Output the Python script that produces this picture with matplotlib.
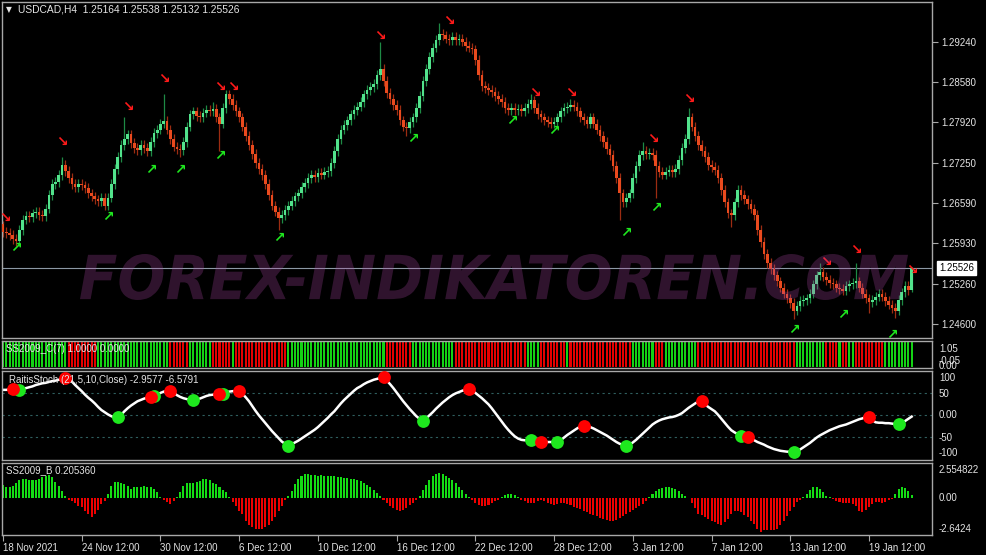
import numpy as np
import matplotlib
matplotlib.use('Agg')
import matplotlib.pyplot as plt
from matplotlib.patches import Rectangle, PathPatch
from matplotlib.textpath import TextPath
from matplotlib.font_manager import FontProperties
from matplotlib.transforms import Affine2D

plt.rcParams['font.family'] = ['Liberation Sans', 'DejaVu Sans']

# ---- price data (USDCAD H4), one close per bar ----
first_open = 1.2625
closes = [
    1.2612, 1.2610, 1.2606, 1.2600, 1.2596, 1.2615, 1.2632, 1.2638, 1.2636, 1.2642,
    1.2644, 1.2640, 1.2637, 1.2650, 1.2672, 1.2690, 1.2694, 1.2705, 1.2722, 1.2712,
    1.2700, 1.2690, 1.2686, 1.2690, 1.2688, 1.2684, 1.2675, 1.2670, 1.2665, 1.2662,
    1.2667, 1.2655, 1.2668, 1.2690, 1.2715, 1.2735, 1.2755, 1.2765, 1.2772, 1.2758,
    1.2750, 1.2747, 1.2755, 1.2750, 1.2745, 1.2760, 1.2775, 1.2780, 1.2790, 1.2794,
    1.2780, 1.2765, 1.2752, 1.2748, 1.2746, 1.2760, 1.2785, 1.2805, 1.2810, 1.2802,
    1.2800, 1.2808, 1.2812, 1.2810, 1.2814, 1.2800, 1.2790, 1.2815, 1.2838, 1.2830,
    1.2820, 1.2810, 1.2800, 1.2785, 1.2770, 1.2755, 1.2740, 1.2725, 1.2715, 1.2705,
    1.2690, 1.2672, 1.2655, 1.2645, 1.2635, 1.2640, 1.2648, 1.2655, 1.2662, 1.2670,
    1.2675, 1.2685, 1.2692, 1.2700, 1.2705, 1.2702, 1.2708, 1.2706, 1.2710, 1.2712,
    1.2725, 1.2745, 1.2765, 1.2780, 1.2788, 1.2795, 1.2805, 1.2812, 1.2818, 1.2825,
    1.2838, 1.2845, 1.2850, 1.2855, 1.2870, 1.2880, 1.2860, 1.2840, 1.2830, 1.2820,
    1.2812, 1.2795, 1.2785, 1.2782, 1.2792, 1.2800, 1.2815, 1.2835, 1.2860, 1.2880,
    1.2900, 1.2915, 1.2928, 1.2938, 1.2935, 1.2930, 1.2927, 1.2932, 1.2928, 1.2930,
    1.2925, 1.2918, 1.2915, 1.2912, 1.2895, 1.2870, 1.2852, 1.2848, 1.2845, 1.2842,
    1.2835, 1.2830, 1.2825, 1.2815, 1.2812, 1.2815, 1.2812, 1.2814, 1.2810, 1.2816,
    1.2822, 1.2828, 1.2815, 1.2805, 1.2800, 1.2795, 1.2792, 1.2790, 1.2792, 1.2800,
    1.2810, 1.2815, 1.2818, 1.2820, 1.2818, 1.2810, 1.2800, 1.2795, 1.2790, 1.2800,
    1.2790, 1.2780, 1.2770, 1.2760, 1.2748, 1.2738, 1.2720, 1.2700, 1.2675, 1.2660,
    1.2668, 1.2675, 1.2700, 1.2720, 1.2738, 1.2745, 1.2740, 1.2742, 1.2738, 1.2720,
    1.2710, 1.2706, 1.2711, 1.2713, 1.2710, 1.2715, 1.2730, 1.2750, 1.2765, 1.2800,
    1.2785, 1.2770, 1.2755, 1.2745, 1.2735, 1.2722, 1.2718, 1.2714, 1.2700, 1.2680,
    1.2660, 1.2642, 1.2640, 1.2660, 1.2680, 1.2672, 1.2665, 1.2658, 1.2650, 1.2640,
    1.2615, 1.2595, 1.2575, 1.2560, 1.2550, 1.2540, 1.2530, 1.2520, 1.2510, 1.2502,
    1.2495, 1.2482, 1.2490, 1.2498, 1.2500, 1.2502, 1.2510, 1.2525, 1.2540, 1.2545,
    1.2538, 1.2532, 1.2528, 1.2525, 1.2520, 1.2518, 1.2515, 1.2522, 1.2525, 1.2528,
    1.2530, 1.2520, 1.2510, 1.2502, 1.2496, 1.2500, 1.2505, 1.2510, 1.2505, 1.2498,
    1.2492, 1.2486, 1.2482, 1.2500, 1.2512, 1.2522, 1.25164, 1.25526,
]
# notable shadows (bar index -> price)
long_highs = {0: 1.2630, 18: 1.2735, 37: 1.2800, 49: 1.2838, 64: 1.2825, 68: 1.2845,
              115: 1.2924, 133: 1.2955, 161: 1.2838, 173: 1.2830, 195: 1.2760,
              209: 1.2815, 249: 1.2560, 260: 1.2561, 277: 1.25538}
long_lows = {54: 1.2735, 66: 1.2745, 84: 1.2615, 123: 1.2770, 188: 1.2632, 199: 1.2668,
             222: 1.2620, 241: 1.2468, 264: 1.2478, 272: 1.2470, 277: 1.25132}
last_price = 1.25526

price_ticks = [1.29240, 1.28580, 1.27920, 1.27250, 1.26590, 1.25930, 1.25260, 1.24600]

red_arrow_bars = [0.6, 18, 38, 49, 66, 70, 115, 136, 162, 173, 198, 209, 251, 260, 277]
red_arrow_prices = [1.2635, 1.2759, 1.2817, 1.2863, 1.2851, 1.2850, 1.2934, 1.2959,
                    1.2841, 1.2841, 1.2764, 1.2830, 1.2562, 1.2582, 1.2549]
green_arrow_bars = [4, 32, 45, 54, 66, 84, 125, 155, 168, 190, 199, 241, 256, 271]
green_arrow_prices = [1.2585, 1.2637, 1.2714, 1.2714, 1.2736, 1.2602, 1.2764, 1.2794,
                      1.2777, 1.2610, 1.2651, 1.2450, 1.2475, 1.2442]

# ---- SS2009_C(7): colour runs ----
c_runs = [('g', 20), ('r', 9), ('g', 22), ('r', 6), ('g', 7), ('r', 6), ('g', 1),
          ('r', 16), ('g', 30), ('r', 8), ('g', 13), ('r', 22), ('g', 4), ('r', 8),
          ('g', 1), ('r', 19), ('g', 7), ('r', 3), ('g', 10), ('r', 30), ('g', 9),
          ('r', 4), ('g', 1), ('r', 2), ('g', 2), ('r', 9), ('g', 9)]

# ---- RaitisStoch ----
stoch = [
    57, 57, 58, 58, 57, 57, 59, 61, 63, 65, 68, 70, 72, 73, 75, 77, 78, 80, 82, 84,
    82, 76, 68, 61, 54, 46, 39, 33, 26, 18, 11, 6, 1, -3, -6, -6,
    0, 8, 15, 21, 26, 31, 34, 37, 39, 40, 42, 46, 50, 53, 54, 54,
    50, 45, 41, 38, 36, 34, 33, 34, 37, 40, 43, 45, 46, 47, 47, 48, 51, 53, 54, 54, 54,
    48, 40, 31, 20, 9, -1, -10, -19, -28, -37, -45, -53, -61, -66, -71,
    -67, -63, -59, -54, -49, -44, -39, -34, -28, -21, -14, -7, 1,
    8, 17, 26, 34, 41, 48, 55, 61, 65, 70, 74, 77, 80, 82, 84, 86,
    78, 70, 61, 51, 41, 31, 22, 13, 5, -3, -9, -13,
    -8, -1, 6, 14, 21, 28, 34, 40, 45, 49, 52, 55, 57, 58,
    55, 50, 44, 38, 31, 24, 15, 5, -5, -15, -25, -34, -42, -49, -54, -57, -58, -58,
    -57, -59, -61, -62, -62, -62, -62, -62, -62,
    -58, -52, -46, -41, -36, -31, -27, -25,
    -26, -28, -31, -35, -39, -43, -47, -52, -57, -62, -66, -69, -72,
    -68, -63, -57, -50, -43, -36, -29, -22, -17, -13, -10, -8, -6, -5, -3, 0, 4, 10,
    16, 21, 26, 30, 31,
    24, 18, 13, 8, 0, -9, -18, -27, -35, -40, -44, -48, -49, -50,
    -54, -58, -62, -65, -68, -72, -75, -78, -80, -82, -83, -84, -84, -84,
    -82, -79, -74, -69, -64, -58, -52, -47, -43, -39, -35, -32, -29, -26, -24, -22,
    -19, -16, -13, -10, -8, -5, -4,
    -12, -17, -18, -18, -19, -19, -20, -21, -22, -19, -14, -9, -4,
]
stoch_red_dots = [3, 19, 45, 51, 66, 72, 116, 142, 164, 177, 213, 227, 264]
stoch_green_dots = [5, 35, 46, 58, 67, 87, 128, 161, 169, 190, 225, 241, 273]

# ---- SS2009_B histogram ----
hist = [
    0.98, 0.83, 0.83, 0.90, 1.14, 1.31, 1.38, 1.38, 1.36, 1.33,
    1.31, 1.38, 1.55, 1.62, 1.69, 1.55, 1.21, 0.90, 0.55, 0.19,
    -0.12, -0.21, -0.36, -0.52, -0.64, -0.88, -1.12, -1.36, -1.12, -0.83,
    -0.40, -0.17, 0.30, 0.90, 1.19, 1.19, 1.14, 1.02, 0.90, 0.67,
    0.79, 0.83, 0.83, 0.86, 0.83, 0.79, 0.67, 0.43, 0.12, -0.12,
    -0.29, -0.40, -0.21, 0.12, 0.43, 0.90, 1.14, 1.14, 1.14, 1.21,
    1.26, 1.38, 1.38, 1.31, 1.14, 1.02, 0.79, 0.60, 0.43, 0.12,
    -0.29, -0.52, -0.88, -1.12, -1.60, -1.95, -2.07, -2.19, -2.19, -2.19,
    -2.07, -1.95, -1.60, -1.36, -0.88, -0.52, -0.12, 0.19, 0.55, 1.02,
    1.38, 1.62, 1.74, 1.74, 1.69, 1.69, 1.62, 1.67, 1.62, 1.62,
    1.62, 1.60, 1.55, 1.55, 1.50, 1.45, 1.40, 1.38, 1.33, 1.26,
    1.14, 1.00, 0.83, 0.60, 0.40, 0.15, -0.15, -0.35, -0.55, -0.72,
    -0.85, -0.90, -0.85, -0.70, -0.50, -0.30, -0.10, 0.20, 0.60, 1.00,
    1.35, 1.60, 1.75, 1.80, 1.75, 1.65, 1.50, 1.30, 1.10, 0.85,
    0.60, 0.35, 0.12, -0.15, -0.30, -0.45, -0.55, -0.55, -0.45, -0.35,
    -0.20, -0.08, 0.10, 0.25, 0.35, 0.35, 0.25, 0.10, -0.10, -0.20,
    -0.30, -0.35, -0.30, -0.20, -0.15, -0.20, -0.30, -0.40, -0.45, -0.40,
    -0.35, -0.35, -0.40, -0.50, -0.60, -0.70, -0.80, -0.90, -1.00, -1.10,
    -1.20, -1.30, -1.40, -1.50, -1.55, -1.60, -1.60, -1.55, -1.45, -1.30,
    -1.15, -1.00, -0.85, -0.70, -0.55, -0.40, -0.20, 0.10, 0.30, 0.50,
    0.65, 0.75, 0.80, 0.80, 0.75, 0.65, 0.50, 0.35, 0.20, 0.05,
    -0.30, -0.70, -1.15, -1.20, -1.36, -1.48, -1.60, -1.71, -1.83, -1.95,
    -1.71, -1.48, -1.12, -0.93, -0.88, -1.00, -1.17, -1.36, -1.60, -1.83,
    -2.19, -2.43, -2.31, -2.31, -2.31, -2.26, -2.19, -1.95, -1.60, -1.24,
    -0.88, -0.64, -0.29, -0.12, 0.12, 0.31, 0.60, 0.83, 0.83, 0.67,
    0.43, 0.19, 0.07, -0.07, -0.17, -0.29, -0.33, -0.33, -0.33, -0.40,
    -0.52, -0.88, -1.00, -0.83, -0.60, -0.40, -0.29, -0.29, -0.36, -0.29,
    -0.12, -0.05, 0.31, 0.67, 0.79, 0.74, 0.55, 0.21,
]

time_tick_bars = [0, 24, 48, 72, 96, 120, 144, 168, 192, 216, 240, 264]
time_labels = ['18 Nov 2021', '24 Nov 12:00', '30 Nov 12:00', '6 Dec 12:00',
               '10 Dec 12:00', '16 Dec 12:00', '22 Dec 12:00', '28 Dec 12:00',
               '3 Jan 12:00', '7 Jan 12:00', '13 Jan 12:00', '19 Jan 12:00']

# ---- layout (pixels) ----
W, H = 987, 555
TXT = '#e4e4e4'
EDGE = '#a8a8a8'
XLIM = (-0.3, 283.2)

fig = plt.figure(figsize=(W / 100, H / 100), dpi=100, facecolor='black')


def pane(left, top, right, bottom):
    ax = fig.add_axes([left / W, 1 - bottom / H, (right - left) / W, (bottom - top) / H])
    ax.set_facecolor('black')
    for s in ax.spines.values():
        s.set_color(EDGE)
        s.set_linewidth(1)
    ax.set_xlim(*XLIM)
    ax.set_xticks([])
    ax.set_yticks([])
    return ax


def rlabel(y_px, text, x_px=939):
    fig.text(x_px / W, 1 - y_px / H, text, color=TXT, fontsize=7, va='center', ha='left')


# ---- main price pane ----
ax = pane(2, 2, 932, 338)
c = np.array(closes)
o = np.concatenate([[first_open], c[:-1]])
x = np.arange(len(c))
up = c >= o
body_lo = np.minimum(o, c)
body_hi = np.maximum(o, c)
tail = 0.0008
hi = body_hi + tail
lo = body_lo - tail
for k, v in long_highs.items():
    hi[k] = v
for k, v in long_lows.items():
    lo[k] = v

wick_cols = np.where(up, '#1e8a45', '#9c2c12')
body_cols = np.where(up, '#52e38c', '#ea4a1e')
ax.vlines(x, lo, hi, colors=wick_cols, linewidth=0.9, zorder=2)
ax.bar(x, np.maximum(body_hi - body_lo, 0.0001), bottom=body_lo, width=0.82,
       color=body_cols, linewidth=0, zorder=3)

for b, p in zip(red_arrow_bars, red_arrow_prices):
    ax.text(b, p, '\u2198', color='#ff1a1a', fontsize=10, fontweight='bold',
            ha='center', va='center', family='DejaVu Sans', zorder=4)
for b, p in zip(green_arrow_bars, green_arrow_prices):
    ax.text(b, p, '\u2197', color='#1fe81f', fontsize=10, fontweight='bold',
            ha='center', va='center', family='DejaVu Sans', zorder=4)

ax.axhline(last_price, color='#8c98a4', linewidth=0.8, zorder=1)
ax.set_ylim(1.24369, 1.29901)
ax.yaxis.tick_right()
ax.set_yticks(price_ticks)
ax.set_yticklabels(['%.5f' % t for t in price_ticks])
ax.tick_params(axis='y', length=4, width=0.8, color=EDGE, labelcolor=TXT,
               labelsize=7, pad=3)

# current price box
fig.text(939 / W, 1 - 268 / H, '%.5f' % last_price, color='black', fontsize=7,
         va='center', ha='left',
         bbox=dict(boxstyle='square,pad=0.22', fc='white', ec='white'))

# header
fig.text(6 / W, 1 - 10 / H, '\u25bc', color=TXT, fontsize=5.5, va='center',
         family='DejaVu Sans')
fig.text(18 / W, 1 - 10 / H, 'USDCAD,H4  1.25164 1.25538 1.25132 1.25526',
         color=TXT, fontsize=7.4, va='center')

# watermark
fig.add_artist(Rectangle((73, H - 311), 840, 67, facecolor=(0, 0, 0.67), alpha=0.34,
                         edgecolor='none', zorder=5))
tp = TextPath((0, 0), 'FOREX-INDIKATOREN.COM', size=50,
              prop=FontProperties(family='DejaVu Sans', weight='bold', style='italic'))
bb = tp.get_extents()
tr = Affine2D().translate(-bb.x0, -bb.y0).scale(828 / bb.width, 46 / bb.height) \
    .translate(80, H - 300)
fig.add_artist(PathPatch(tp, transform=tr, facecolor='#b048a8', alpha=0.27,
                         edgecolor='none', zorder=6))

# ---- SS2009_C pane ----
ax2 = pane(2, 341, 932, 368)
c_cols = []
for col, n in c_runs:
    c_cols += [col] * n
c_cols = ['#14d214' if k == 'g' else '#e60000' for k in c_cols]
ax2.bar(np.arange(len(c_cols)), 1.0, width=0.62, color=c_cols, linewidth=0)
ax2.set_ylim(-0.05, 1.05)
ax2.text(4 / 930, 0.72, 'SS2009_C(7) 1.0000 0.0000', transform=ax2.transAxes,
         color=TXT, fontsize=7, va='center')
rlabel(349, '1.05')
rlabel(366, '0.00')
rlabel(361, '-0.05')

# ---- RaitisStoch pane ----
ax3 = pane(2, 371, 932, 460)
s = np.array(stoch, dtype=float)
for lvl in (50, 0, -50):
    ax3.axhline(lvl, color='#2f5e5e', linestyle=(0, (2, 3)), linewidth=0.8)
ax3.plot(np.arange(len(s)), s, color='white', linewidth=1.8, zorder=2)
ax3.scatter(stoch_green_dots, s[stoch_green_dots], s=85, color='#1ee81e',
            linewidth=0, zorder=3)
ax3.scatter(stoch_red_dots, s[stoch_red_dots], s=85, color='#ff0000',
            linewidth=0, zorder=4)
ax3.set_ylim(-103, 100)
ax3.text(7 / 930, 0.9, 'RaitisStoch (21,5,10,Close) -2.9577 -6.5791',
         transform=ax3.transAxes, color=TXT, fontsize=7, va='center', zorder=5)
rlabel(378, '100')
rlabel(394, '50')
rlabel(415, '0.00')
rlabel(438, '-50')
rlabel(453, '-100')

# ---- SS2009_B pane ----
ax4 = pane(2, 463, 932, 535)
hv = np.array(hist)
ax4.bar(np.arange(len(hv)), hv, width=0.62, linewidth=0,
        color=np.where(hv >= 0, '#14dc14', '#ee0000'))
ax4.set_ylim(-2.6424, 2.554822)
ax4.text(4 / 930, 0.9, 'SS2009_B 0.205360', transform=ax4.transAxes,
         color=TXT, fontsize=7, va='center')
rlabel(470, '2.554822')
rlabel(498, '0.00')
rlabel(529, '-2.6424')

ax4.set_xticks(time_tick_bars)
ax4.set_xticklabels(time_labels, ha='left')
ax4.tick_params(axis='x', length=4, width=0.8, color=EDGE, labelcolor=TXT,
                labelsize=7, pad=2)

fig.savefig('out.png', dpi=100, facecolor='black')
